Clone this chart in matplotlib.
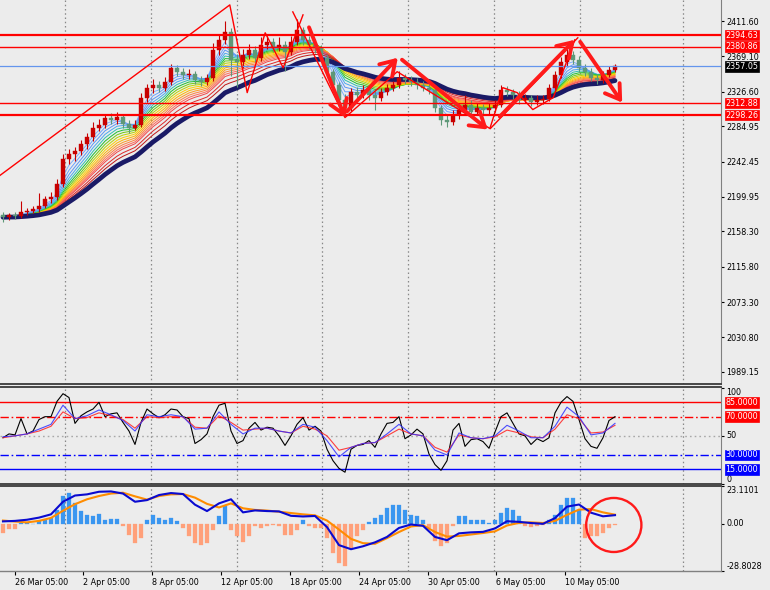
import numpy as np
import pandas as pd
import matplotlib
matplotlib.use("Agg")
import matplotlib.pyplot as plt
from matplotlib.patches import Ellipse
from matplotlib.transforms import blended_transform_factory as btf

plt.rcParams['font.family'] = ['DejaVu Sans']

# ---------------- data ----------------
opens = [2178.0, 2175.4, 2177.8, 2176.6, 2181.4, 2182.6, 2185.0, 2188.6, 2197.0, 2199.4,
         2215.0, 2245.0, 2251.0, 2254.6, 2263.0, 2271.4, 2283.4, 2287.0, 2295.4, 2293.0,
         2296.6, 2288.2, 2283.4, 2287.0, 2319.4, 2331.4, 2335.0, 2331.4, 2338.6, 2355.4,
         2350.6, 2347.0, 2348.2, 2341.0, 2338.6, 2343.4, 2377.0, 2389.0, 2398.6, 2365.0,
         2362.6, 2371.0, 2377.0, 2367.4, 2383.0, 2386.6, 2379.4, 2383.0, 2374.6, 2386.6,
         2401.0, 2389.0, 2383.0, 2379.4, 2367.4, 2350.6, 2335.0, 2317.0, 2307.4, 2326.6,
         2323.0, 2329.0, 2323.0, 2319.4, 2326.6, 2331.4, 2335.0, 2343.4, 2341.0, 2338.6,
         2335.0, 2331.4, 2329.0, 2307.4, 2293.0, 2290.6, 2299.0, 2305.0, 2311.0, 2302.6,
         2307.4, 2305.0, 2307.4, 2311.0, 2329.0, 2326.6, 2323.0, 2317.0, 2319.4, 2314.6,
         2317.0, 2318.2, 2331.4, 2347.0, 2362.6, 2371.0, 2365.0, 2355.4, 2350.6, 2343.4,
         2341.0, 2347.0, 2353.0]
closes = [2175.4, 2177.8, 2176.6, 2181.4, 2182.6, 2185.0, 2188.6, 2197.0, 2199.4, 2215.0,
          2245.0, 2251.0, 2254.6, 2263.0, 2271.4, 2283.4, 2287.0, 2295.4, 2293.0, 2296.6,
          2288.2, 2283.4, 2287.0, 2319.4, 2331.4, 2335.0, 2331.4, 2338.6, 2355.4, 2350.6,
          2347.0, 2348.2, 2341.0, 2338.6, 2343.4, 2377.0, 2389.0, 2398.6, 2365.0, 2362.6,
          2371.0, 2377.0, 2367.4, 2383.0, 2386.6, 2379.4, 2383.0, 2374.6, 2386.6, 2401.0,
          2389.0, 2383.0, 2379.4, 2367.4, 2350.6, 2335.0, 2317.0, 2307.4, 2326.6, 2323.0,
          2329.0, 2323.0, 2319.4, 2326.6, 2331.4, 2335.0, 2343.4, 2341.0, 2338.6, 2335.0,
          2331.4, 2329.0, 2307.4, 2293.0, 2290.6, 2299.0, 2305.0, 2311.0, 2302.6, 2307.4,
          2305.0, 2307.4, 2311.0, 2329.0, 2326.6, 2323.0, 2317.0, 2319.4, 2314.6, 2317.0,
          2318.2, 2331.4, 2347.0, 2362.6, 2371.0, 2365.0, 2355.4, 2350.6, 2343.4, 2341.0,
          2347.0, 2353.0, 2357.05]
highs = [2182, 2181, 2182, 2195, 2187, 2189, 2205, 2201, 2206, 2222,
         2252, 2258, 2260, 2268, 2277, 2290, 2294, 2300, 2301, 2302,
         2300, 2293, 2292, 2325, 2336, 2342, 2339, 2344, 2360, 2359,
         2355, 2354, 2352, 2345, 2348, 2385, 2395, 2412, 2403, 2372,
         2378, 2384, 2381, 2392, 2393, 2391, 2392, 2387, 2393, 2414,
         2405, 2393, 2390, 2383, 2371, 2354, 2338, 2324, 2331, 2332,
         2335, 2333, 2327, 2331, 2336, 2340, 2352, 2348, 2346, 2343,
         2340, 2336, 2332, 2311, 2298, 2304, 2311, 2322, 2316, 2313,
         2312, 2313, 2316, 2335, 2333, 2330, 2327, 2324, 2323, 2322,
         2322, 2336, 2352, 2368, 2380, 2376, 2369, 2360, 2355, 2348,
         2352, 2358, 2360]
lows = [2170, 2172, 2173, 2174, 2178, 2180, 2182, 2186, 2193, 2196,
        2212, 2240, 2243, 2250, 2258, 2267, 2279, 2283, 2288, 2288,
        2283, 2277, 2280, 2284, 2314, 2325, 2326, 2327, 2335, 2345,
        2342, 2342, 2336, 2333, 2334, 2340, 2371, 2384, 2345, 2332,
        2355, 2366, 2362, 2364, 2378, 2374, 2375, 2352, 2371, 2383,
        2383, 2378, 2373, 2362, 2345, 2328, 2310, 2297, 2303, 2318,
        2319, 2316, 2305, 2315, 2322, 2327, 2331, 2336, 2333, 2330,
        2327, 2324, 2302, 2287, 2284, 2286, 2294, 2300, 2297, 2298,
        2299, 2300, 2302, 2308, 2321, 2318, 2312, 2313, 2309, 2310,
        2312, 2315, 2328, 2343, 2358, 2360, 2350, 2345, 2339, 2336,
        2337, 2344, 2350]

# RSI lines (black every bar, blue/red every second bar)
rsi_fast = [48, 52, 51, 68, 52, 55, 67, 70, 70, 86,
            94, 90, 63, 71, 75, 78, 85, 70, 73, 74,
            64, 55, 41, 64, 78, 73, 69, 72, 78, 77,
            70, 68, 42, 46, 52, 70, 82, 84, 55, 42,
            45, 58, 64, 56, 59, 58, 50, 40, 50, 62,
            69, 56, 60, 55, 36, 24, 16, 12, 36, 40,
            41, 45, 38, 52, 63, 64, 70, 47, 51, 57,
            52, 31, 20, 14, 24, 56, 63, 39, 46, 47,
            44, 37, 54, 70, 74, 63, 52, 50, 41, 47,
            44, 48, 74, 85, 91, 86, 67, 47, 39, 37,
            48, 66, 70]
rsi_mid = [49, 50, 52, 57, 62, 82, 68, 71, 77, 72,
           66, 55, 72, 70, 72, 70, 57, 58, 75, 62,
           52, 58, 58, 55, 53, 62, 59, 45, 28, 38,
           42, 43, 52, 62, 52, 50, 35, 30, 53, 48,
           47, 50, 61, 55, 48, 48, 60, 80, 70, 51,
           53, 63]
rsi_slow = [48, 50, 52, 55, 60, 75, 68, 69, 74, 71,
            67, 58, 70, 69, 70, 70, 59, 58, 71, 64,
            56, 57, 58, 55, 53, 60, 57, 50, 35, 38,
            42, 43, 50, 57, 52, 50, 38, 33, 51, 48,
            47, 49, 56, 53, 49, 48, 57, 72, 68, 53,
            54, 61]

# MACD panel
macd_line = [1.5, 1.8, 2.5, 3.8, 5.8, 13.5, 17.3, 18.0, 19.6, 19.8,
             18.5, 13.5, 14.5, 17.6, 18.8, 18.2, 11.7, 7.8, 12.5, 15.0,
             7.0, 8.2, 7.8, 7.6, 4.9, 4.5, 4.8, -2.0, -13.0, -15.5,
             -13.7, -11.3, -8.0, -2.5, -0.4, -1.2, -8.0, -10.0, -5.8, -5.2,
             -4.9, -2.8, 1.6, 1.2, 0.5, 0.0, 3.5, 10.5, 11.8, 6.8,
             4.6, 5.3]
signal_line = [2.0, 1.4, 0.9, 1.8, 3.6, 8.0, 12.0, 15.0, 17.0, 18.5,
               19.0, 16.8, 14.8, 17.0, 18.0, 18.2, 16.0, 12.2, 10.0, 12.5,
               9.5, 8.5, 8.1, 7.4, 6.6, 5.8, 5.2, 2.0, -3.5, -9.2,
               -11.8, -12.2, -8.7, -5.0, -1.6, -0.8, -5.0, -7.8, -7.4, -6.5,
               -5.6, -4.6, -1.0, 0.6, 0.9, 0.5, 1.8, 5.5, 8.7, 9.0,
               7.0, 5.6]
histogram = [-5.7, -3.2, -3.2, 0.8, 0.8, 0.2, 1.5, 2.1, 3.5, 8.6,
             16.8, 18.8, 12.7, 7.6, 5.6, 4.5, 6.2, 2.5, 2.9, 2.9,
             -1.6, -6.7, -11.7, -8.7, 2.5, 5.6, 3.5, 2.5, 3.5, 1.5,
             -2.6, -7.7, -11.7, -12.8, -11.7, -3.6, 4.5, 10.6, -3.6, -7.7,
             -11.3, -7.7, -1.2, -2.6, -1.6, -0.6, -1.2, -6.7, -6.7, -3.6,
             2.1, -1.6, -2.6, -2.6, -8.7, -17.9, -24.0, -26.0, -14.8, -7.7,
             -3.6, 0.9, 3.5, 5.6, 9.6, 11.7, 11.7, 8.6, 5.6, 4.5,
             2.5, -2.6, -10.7, -13.8, -11.7, -1.6, 4.5, 4.5, 2.1, 2.5,
             2.1, 0.5, 2.5, 6.6, 9.6, 8.6, 4.5, -1.2, -2.0, -1.6,
             -0.6, 2.1, 5.6, 11.7, 15.7, 15.7, 8.6, -8.7, -7.7, -7.7,
             -5.7, -2.6, -0.6]

# levels and labels
red_levels = [2394.63, 2380.86, 2312.88, 2298.26]
bid_level = 2357.05
price_ticks = [2411.60, 2369.10, 2326.60, 2284.95, 2242.45, 2199.95,
               2158.30, 2115.80, 2073.30, 2030.80, 1989.15]
rsi_levels = [85, 70, 30, 15]
macd_top, macd_bottom = 23.1101, -28.8028
date_labels = ["26 Mar 05:00", "2 Apr 05:00", "8 Apr 05:00", "12 Apr 05:00",
               "18 Apr 05:00", "24 Apr 05:00", "30 Apr 05:00", "6 May 05:00",
               "10 May 05:00"]
date_pos = [2.0, 13.33, 24.83, 36.33, 47.83, 59.33, 70.83, 82.17, 93.67]
grid_pos = [10.33, 24.67, 39.0, 53.17, 67.5, 81.83, 96.17, 113.33]

ribbon_spans = [3, 4, 5, 6, 7, 8, 9, 10, 11, 12, 13, 14, 15, 16, 18, 20]
navy_span = 24

# hand drawn objects (bar index, price)
thin_lines = [
    [(-0.5, 2225.8), (37.8, 2431.0), (40.7, 2325.4), (43.7, 2397.4), (46.7, 2355.4), (50.0, 2419.0)],
    [(48.3, 2422.6), (57.0, 2295.4), (65.7, 2350.6), (81.2, 2282.0), (95.8, 2391.4)],
    [(81.2, 2283.4), (83.3, 2331.4), (85.7, 2325.4), (88.3, 2305.0), (91.7, 2319.4), (95.3, 2389.0)],
]
thick_arrows = [
    ((51.0, 2404.0), (57.0, 2295.4)),
    ((57.3, 2302.6), (65.8, 2367.4)),
    ((66.5, 2365.0), (80.8, 2281.0)),
    ((82.8, 2296.6), (95.3, 2389.0)),
    ((96.2, 2386.6), (103.2, 2313.4)),
]

# ---------------- figure ----------------
BG = '#ececec'
W, H = 770, 590
XR = 721
fig = plt.figure(figsize=(7.7, 5.9), dpi=100, facecolor=BG)


def rect(top, bottom):
    return [0, 1 - bottom / H, XR / W, (bottom - top) / H]


ax = fig.add_axes(rect(0, 384))
ax2 = fig.add_axes(rect(387, 484), sharex=ax)
ax3 = fig.add_axes(rect(486, 571), sharex=ax)
FS = 5.8
for a in (ax, ax2, ax3):
    a.set_facecolor(BG)
    a.spines['left'].set_visible(False)
    a.spines['right'].set_color('#808080')
    a.spines['top'].set_color('#3a3a3a')
    a.spines['bottom'].set_color('#3a3a3a')
    a.spines['top'].set_linewidth(1.3)
    a.spines['bottom'].set_linewidth(1.3)
    a.yaxis.tick_right()
    a.tick_params(axis='y', length=2.5, pad=1.2, labelsize=FS, colors='black',
                  direction='out', width=0.8)
    for g in grid_pos:
        a.axvline(g, color='#888888', lw=0.9, ls=(0, (1.2, 2.2)), zorder=1)
ax.spines['top'].set_visible(False)
ax3.spines['bottom'].set_color('#808080')
ax3.spines['bottom'].set_linewidth(1.0)
ax.tick_params(axis='x', bottom=False, labelbottom=False)
ax2.tick_params(axis='x', bottom=False, labelbottom=False)

n = len(closes)
x = np.arange(n)
ax.set_xlim(-0.5, (XR - 3) / 6)

# ---- main price panel ----
ax.set_ylim(1974.7, 2436.9)
cs = pd.Series(closes)
cmap_cols = ['#7fb0ff', '#6aa2ff', '#5a96f5', '#4aa8f0', '#2fc0b0', '#20c030',
             '#70cc10', '#b8d400', '#ffd000', '#ffb400', '#ff9a20', '#ff8040',
             '#ff6a5a', '#f04848', '#dd2828', '#c01818']
for sp, col in zip(ribbon_spans, cmap_cols):
    ax.plot(x, cs.ewm(span=sp, adjust=False).mean(), color=col, lw=0.7, zorder=2)
ax.plot(x, cs.ewm(span=navy_span, adjust=False).mean(), color='#1a1a66', lw=3.4,
        zorder=2.6, solid_capstyle='round')

o = np.array(opens); c = np.array(closes); hi = np.array(highs); lo = np.array(lows)
up = c >= o
cols = np.where(up, '#c80000', '#5e9878')
ax.vlines(x, lo, hi, colors=cols, lw=0.8, zorder=3)
body_b = np.minimum(o, c)
body_h = np.maximum(np.abs(c - o), 0.8)
ax.bar(x, body_h, bottom=body_b, width=0.55, color=cols, edgecolor=cols, lw=0.3, zorder=3.1)

for lv in red_levels:
    thick = lv in (2394.63, 2298.26)
    ax.axhline(lv, color='#ff0000', lw=1.6 if thick else 1.0, zorder=4)
ax.axhline(bid_level, color='#6495ed', lw=0.9, zorder=4)

for pts in thin_lines:
    px, py = zip(*pts)
    ax.plot(px, py, color='#ff0000', lw=1.0, zorder=5, clip_on=True)
for tail, head in thick_arrows:
    ax.annotate('', xy=head, xytext=tail, xycoords='data', textcoords='data',
                arrowprops=dict(arrowstyle='->,head_length=0.5,head_width=0.32',
                                color='#ff1a1a', lw=2.8, mutation_scale=20,
                                shrinkA=0, shrinkB=0), zorder=6)

ax.set_yticks(price_ticks)
ax.set_yticklabels([f'{v:.2f}' for v in price_ticks])


def boxlabel(a, y, txt, fc, tc='white'):
    t = btf(a.transAxes, a.transData)
    a.text(1 + 4.5 / XR, y, txt, transform=t, ha='left', va='center', fontsize=FS,
           color=tc, clip_on=False, zorder=10,
           bbox=dict(boxstyle='square,pad=0.1', fc=fc, ec=fc, lw=0.5))


for lv in red_levels:
    boxlabel(ax, lv, f'{lv:.2f}', '#ff0000')
boxlabel(ax, bid_level, f'{bid_level:.2f}', '#000000')

# ---- RSI panel ----
ax2.set_ylim(-0.3, 101)
xs2 = np.arange(0, n, 2)
ax2.axhline(85, color='#ff0000', lw=1.0, zorder=2)
ax2.axhline(70, color='#ff0000', lw=1.0, ls=(0, (6, 2, 1.2, 2)), zorder=2)
ax2.axhline(50, color='#a8a8a8', lw=1.0, ls=(0, (1.2, 2.2)), zorder=2)
ax2.axhline(30, color='#0000ff', lw=1.0, ls=(0, (6, 2, 1.2, 2)), zorder=2)
ax2.axhline(15, color='#0000ff', lw=1.0, zorder=2)
ax2.plot(x, rsi_fast, color='black', lw=0.8, zorder=3)
ax2.plot(xs2, rsi_mid, color='#3030ff', lw=0.8, alpha=0.85, zorder=3.2)
ax2.plot(xs2, rsi_slow, color='#ff2020', lw=0.8, alpha=0.85, zorder=3.1)
ax2.set_yticks([100, 50, 0])
ax2.set_yticklabels(['100', '50', '0'])
for lbl, va in zip(ax2.get_yticklabels(), ['top', 'center', 'bottom']):
    lbl.set_va(va)
for lv in rsi_levels:
    boxlabel(ax2, lv, f'{lv:.4f}', '#ff0000' if lv > 50 else '#0000ff')

# ---- MACD panel ----
ax3.set_ylim(macd_bottom, macd_top)
h = np.array(histogram)
hcols = np.where(h >= 0, '#3a96f0', '#ffa07a')
ax3.bar(x, h, width=0.6, color=hcols, edgecolor=hcols, lw=0.2, zorder=2)
ax3.plot(xs2, signal_line, color='#ff8c00', lw=1.5, zorder=3)
ax3.plot(xs2, macd_line, color='#0a0ad0', lw=1.5, zorder=3.2)
ax3.add_patch(Ellipse((101.8, -0.7), 9.2, 33.0, fill=False, ec='#ff1a1a', lw=1.7,
                      zorder=5, clip_on=False))
ax3.set_yticks([macd_top, 0.0, macd_bottom])
ax3.set_yticklabels([f'{macd_top:.4f}', '0.00', f'{macd_bottom:.4f}'])
for lbl, va in zip(ax3.get_yticklabels(), ['top', 'center', 'bottom']):
    lbl.set_va(va)
ax3.set_xticks(date_pos)
ax3.set_xticklabels(date_labels, fontsize=FS, ha='left')
ax3.tick_params(axis='x', length=3, pad=2, width=0.8, colors='black')

fig.savefig('out.png', dpi=100, facecolor=BG)
